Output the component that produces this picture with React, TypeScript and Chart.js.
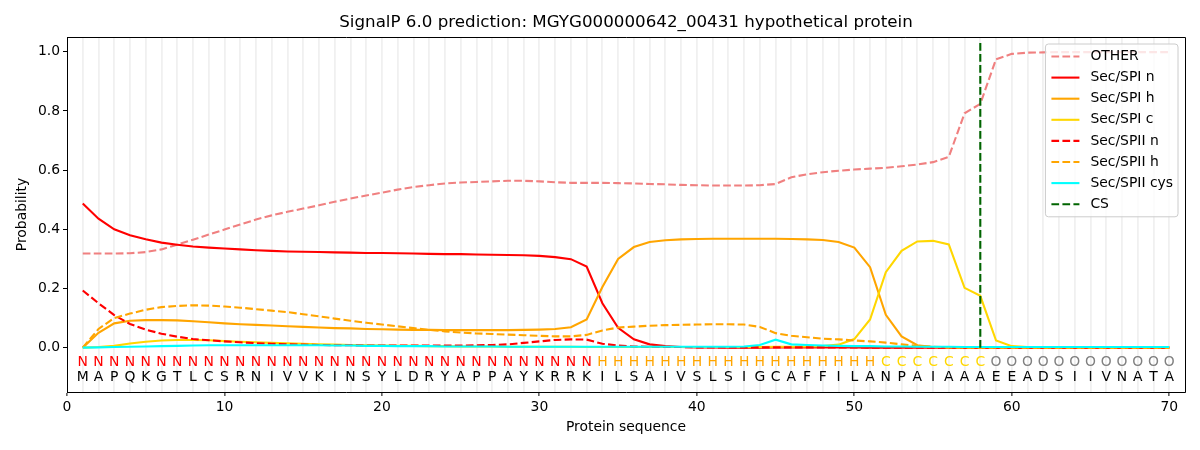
import { useEffect, useRef } from "react";
import { Chart, registerables } from "chart.js";

Chart.register(...registerables);

const TITLE = "SignalP 6.0 prediction: MGYG000000642_00431 hypothetical protein";
const sequence = "MAPQKGTLCSRNIVVKINSYLDRYAPPAYKRRKILSAIVSLSIGCAFFILANPAIAAAEEADSIIVNATA".split("");
const regions = "NNNNNNNNNNNNNNNNNNNNNNNNNNNNNNNNNHHHHHHHHHHHHHHHHHHCCCCCCCOOOOOOOOOOOO".split("");
const regionColors: Record<string, string> = { N: "#ff0000", H: "#ffa500", C: "#ffd700", O: "#808080" };
const csPosition = 58;
const xTicks = [0, 10, 20, 30, 40, 50, 60, 70];
const yTicks = [0, 0.2, 0.4, 0.6, 0.8, 1.0];

const other = [
  0.318, 0.318, 0.318, 0.319, 0.323, 0.332, 0.348, 0.365, 0.382, 0.399,
  0.416, 0.433, 0.447, 0.459, 0.470, 0.481, 0.493, 0.504, 0.514, 0.524,
  0.534, 0.543, 0.549, 0.555, 0.558, 0.560, 0.562, 0.564, 0.564, 0.562,
  0.559, 0.557, 0.557, 0.557, 0.556, 0.555, 0.553, 0.552, 0.550, 0.549,
  0.548, 0.548, 0.548, 0.549, 0.553, 0.576, 0.586, 0.593, 0.598, 0.602,
  0.605, 0.608, 0.613, 0.619, 0.627, 0.645, 0.792, 0.824, 0.975, 0.993,
  0.997, 0.998, 0.999, 0.999, 0.999, 0.999, 0.999, 0.999, 0.999, 0.999,
];
const spiN = [
  0.487, 0.436, 0.400, 0.380, 0.366, 0.355, 0.348, 0.342, 0.338, 0.335,
  0.332, 0.329, 0.327, 0.325, 0.324, 0.323, 0.322, 0.321, 0.320, 0.320,
  0.319, 0.318, 0.317, 0.316, 0.316, 0.315, 0.314, 0.313, 0.312, 0.310,
  0.306, 0.299, 0.274, 0.150, 0.067, 0.028, 0.011, 0.005, 0.002, 0.001,
  0.001, 0.000, 0.000, 0.000, 0.001, 0.001, 0.001, 0.001, 0.001, 0.001,
  0.000, 0.000, 0.000, 0.000, 0.000, 0.000, 0.000, 0.000, 0.000, 0.000,
  0.000, 0.000, 0.000, 0.000, 0.000, 0.000, 0.000, 0.000, 0.000, 0.000,
];
const spiH = [
  0.000, 0.050, 0.082, 0.091, 0.093, 0.093, 0.092, 0.089, 0.086, 0.082,
  0.079, 0.077, 0.075, 0.072, 0.070, 0.068, 0.066, 0.065, 0.063, 0.062,
  0.061, 0.060, 0.060, 0.059, 0.059, 0.059, 0.059, 0.059, 0.060, 0.061,
  0.063, 0.069, 0.095, 0.205, 0.300, 0.340, 0.357, 0.363, 0.366, 0.367,
  0.368, 0.368, 0.368, 0.368, 0.368, 0.367, 0.366, 0.364, 0.357, 0.338,
  0.272, 0.111, 0.038, 0.008, 0.002, 0.001, 0.000, 0.000, 0.000, 0.000,
  0.000, 0.000, 0.000, 0.000, 0.000, 0.000, 0.000, 0.000, 0.000, 0.000,
];
const spiC = [
  0.000, 0.002, 0.006, 0.014, 0.020, 0.024, 0.026, 0.026, 0.025, 0.022,
  0.020, 0.018, 0.016, 0.015, 0.013, 0.011, 0.010, 0.009, 0.008, 0.007,
  0.006, 0.006, 0.005, 0.005, 0.004, 0.004, 0.004, 0.003, 0.003, 0.003,
  0.003, 0.003, 0.002, 0.002, 0.002, 0.002, 0.002, 0.002, 0.002, 0.002,
  0.002, 0.002, 0.002, 0.002, 0.003, 0.003, 0.004, 0.005, 0.010, 0.029,
  0.095, 0.255, 0.327, 0.359, 0.361, 0.349, 0.202, 0.175, 0.024, 0.005,
  0.002, 0.001, 0.001, 0.000, 0.000, 0.000, 0.000, 0.000, 0.000, 0.000,
];
const spiiN = [
  0.193, 0.150, 0.110, 0.080, 0.061, 0.047, 0.037, 0.029, 0.025, 0.021,
  0.018, 0.015, 0.013, 0.011, 0.010, 0.009, 0.008, 0.008, 0.007, 0.007,
  0.007, 0.007, 0.007, 0.007, 0.007, 0.008, 0.009, 0.011, 0.016, 0.021,
  0.026, 0.028, 0.027, 0.013, 0.007, 0.004, 0.003, 0.002, 0.002, 0.001,
  0.001, 0.001, 0.001, 0.001, 0.001, 0.001, 0.001, 0.001, 0.001, 0.001,
  0.000, 0.000, 0.000, 0.000, 0.000, 0.000, 0.000, 0.000, 0.000, 0.000,
  0.000, 0.000, 0.000, 0.000, 0.000, 0.000, 0.000, 0.000, 0.000, 0.000,
];
const spiiH = [
  0.000, 0.063, 0.100, 0.115, 0.128, 0.137, 0.141, 0.143, 0.142, 0.139,
  0.135, 0.130, 0.125, 0.120, 0.113, 0.106, 0.098, 0.091, 0.084, 0.078,
  0.072, 0.066, 0.060, 0.055, 0.051, 0.048, 0.046, 0.044, 0.042, 0.040,
  0.038, 0.038, 0.043, 0.058, 0.068, 0.071, 0.074, 0.076, 0.077, 0.078,
  0.079, 0.079, 0.078, 0.070, 0.049, 0.040, 0.035, 0.030, 0.028, 0.024,
  0.021, 0.017, 0.011, 0.006, 0.003, 0.001, 0.000, 0.000, 0.000, 0.000,
  0.000, 0.000, 0.000, 0.000, 0.000, 0.000, 0.000, 0.000, 0.000, 0.000,
];
const spiiCys = [
  0.000, 0.001, 0.002, 0.003, 0.004, 0.005, 0.006, 0.007, 0.008, 0.008,
  0.008, 0.008, 0.008, 0.008, 0.008, 0.008, 0.007, 0.007, 0.006, 0.006,
  0.005, 0.005, 0.005, 0.004, 0.004, 0.004, 0.004, 0.003, 0.003, 0.003,
  0.003, 0.003, 0.003, 0.003, 0.003, 0.003, 0.003, 0.003, 0.003, 0.003,
  0.003, 0.003, 0.004, 0.009, 0.027, 0.011, 0.009, 0.007, 0.006, 0.005,
  0.005, 0.004, 0.004, 0.003, 0.003, 0.003, 0.002, 0.002, 0.002, 0.002,
  0.002, 0.002, 0.002, 0.002, 0.002, 0.002, 0.002, 0.002, 0.002, 0.002,
];

const FONT = "'DejaVu Sans', sans-serif";
const DASH = [7.7, 3.3];

const toPoints = (vals: number[]) => vals.map((v, i) => ({ x: i + 1, y: v }));

// titles, sequence letters, top/right spines and the legend box
const decorPlugin = {
  id: "decor",
  afterDatasetsDraw(chart: any) {
    const { ctx, chartArea, scales } = chart;
    const x = scales.x;
    const y = scales.y;
    ctx.save();

    // sequence + region letters
    ctx.font = `13.9px ${FONT}`;
    ctx.textAlign = "center";
    ctx.textBaseline = "middle";
    sequence.forEach((aa, i) => {
      const px = x.getPixelForValue(i + 1);
      ctx.fillStyle = regionColors[regions[i]];
      ctx.fillText(regions[i], px, y.getPixelForValue(-0.05));
      ctx.fillStyle = "#000";
      ctx.fillText(aa, px, y.getPixelForValue(-0.1));
    });

    // top and right spines
    ctx.strokeStyle = "#000";
    ctx.lineWidth = 1;
    ctx.beginPath();
    ctx.moveTo(chartArea.left, chartArea.top + 0.5);
    ctx.lineTo(chartArea.right + 0.5, chartArea.top + 0.5);
    ctx.lineTo(chartArea.right + 0.5, chartArea.bottom);
    ctx.stroke();

    // legend
    const sets = chart.data.datasets;
    ctx.font = `13.9px ${FONT}`;
    const maxW = Math.max(...sets.map((d: any) => ctx.measureText(d.label).width));
    const rowH = 21.1;
    const boxW = 6 + 28 + 11 + maxW + 5;
    const boxH = sets.length * rowH + 4;
    const bx = chartArea.right - 7 - boxW;
    const by = chartArea.top + 7;
    ctx.fillStyle = "rgba(255,255,255,0.8)";
    ctx.strokeStyle = "#cccccc";
    ctx.beginPath();
    ctx.roundRect(bx, by, boxW, boxH, 3);
    ctx.fill();
    ctx.stroke();
    sets.forEach((d: any, i: number) => {
      const cy = by + 12.5 + i * rowH;
      ctx.strokeStyle = d.borderColor;
      ctx.lineWidth = 2.1;
      ctx.setLineDash(d.borderDash || []);
      ctx.beginPath();
      ctx.moveTo(bx + 6, cy);
      ctx.lineTo(bx + 34, cy);
      ctx.stroke();
      ctx.setLineDash([]);
      ctx.fillStyle = "#000";
      ctx.textAlign = "left";
      ctx.fillText(d.label, bx + 45, cy);
    });

    // titles
    ctx.fillStyle = "#000";
    ctx.textAlign = "center";
    ctx.font = `16.7px ${FONT}`;
    ctx.fillText(TITLE, (chartArea.left + chartArea.right) / 2, 23);
    ctx.font = `13.9px ${FONT}`;
    ctx.fillText("Protein sequence", (chartArea.left + chartArea.right) / 2, 427);
    ctx.translate(22, (chartArea.top + chartArea.bottom) / 2);
    ctx.rotate(-Math.PI / 2);
    ctx.fillText("Probability", 0, 0);
    ctx.restore();
  },
};

export default function App() {
  const canvasRef = useRef<HTMLCanvasElement>(null);

  useEffect(() => {
    document.body.style.margin = "0";
    if (!canvasRef.current) return;
    const series = [
      { label: "OTHER", data: other, color: "#f08080", dash: DASH },
      { label: "Sec/SPI n", data: spiN, color: "#ff0000", dash: [] },
      { label: "Sec/SPI h", data: spiH, color: "#ffa500", dash: [] },
      { label: "Sec/SPI c", data: spiC, color: "#ffd700", dash: [] },
      { label: "Sec/SPII n", data: spiiN, color: "#ff0000", dash: DASH },
      { label: "Sec/SPII h", data: spiiH, color: "#ffa500", dash: DASH },
      { label: "Sec/SPII cys", data: spiiCys, color: "#00ffff", dash: [] },
    ];
    const datasets: any[] = series.map((s, i) => ({
      label: s.label,
      data: toPoints(s.data),
      borderColor: s.color,
      borderDash: s.dash,
      borderWidth: 2.1,
      pointRadius: 0,
      tension: 0,
      fill: false,
      order: 20 - i,
    }));
    datasets.push({
      label: "CS",
      data: [{ x: csPosition, y: 0 }, { x: csPosition, y: 1.035 }],
      borderColor: "#006400",
      borderDash: DASH,
      borderWidth: 2.1,
      pointRadius: 0,
      fill: false,
      order: 1,
    });

    const chart = new Chart(canvasRef.current, {
      type: "line",
      data: { datasets },
      options: {
        responsive: true,
        maintainAspectRatio: false,
        animation: false,
        layout: { padding: { top: 37, right: 15, left: 0, bottom: 0 } },
        plugins: { legend: { display: false }, tooltip: { enabled: false } },
        scales: {
          x: {
            type: "linear",
            min: 0,
            max: 71,
            afterBuildTicks: (scale: any) => {
              scale.ticks = [{ value: 0 }].concat(sequence.map((_, i) => ({ value: i + 1 })));
            },
            afterFit: (scale: any) => { scale.height = 58; },
            ticks: {
              autoSkip: false,
              maxRotation: 0,
              padding: 3,
              color: "#000",
              font: { family: FONT, size: 13.9 },
              callback: (v: any) => (xTicks.includes(v) ? String(v) : ""),
            },
            grid: {
              color: (c: any) => (c.tick && c.tick.value >= 1 ? "#f0f0f0" : "rgba(0,0,0,0)"),
              lineWidth: 1.8,
              tickColor: (c: any) => (c.tick && xTicks.includes(c.tick.value) ? "#000" : "rgba(0,0,0,0)"),
              tickWidth: 1,
              tickLength: 4,
            },
            border: { display: true, color: "#000", width: 1 },
          },
          y: {
            min: -0.15,
            max: 1.05,
            afterBuildTicks: (scale: any) => { scale.ticks = yTicks.map(v => ({ value: v })); },
            afterFit: (scale: any) => { scale.width = 67; },
            ticks: {
              padding: 3,
              color: "#000",
              font: { family: FONT, size: 13.9 },
              callback: (v: any) => Number(v).toFixed(1),
            },
            grid: { drawOnChartArea: false, tickColor: "#000", tickLength: 4, tickWidth: 1 },
            border: { display: true, color: "#000", width: 1 },
          },
        },
      },
      plugins: [decorPlugin],
    });
    return () => chart.destroy();
  }, []);

  return (
    <div style={{ width: 1200, height: 450, position: "relative" }}>
      <canvas ref={canvasRef}></canvas>
    </div>
  );
}
